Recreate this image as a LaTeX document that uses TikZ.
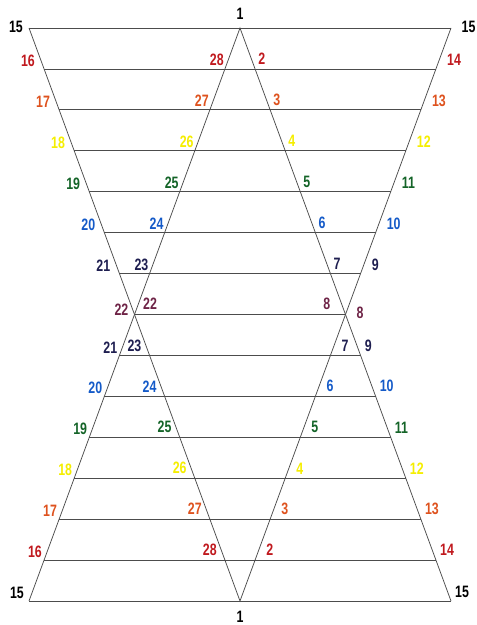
\documentclass[tikz,border=0pt]{standalone}
\usepackage{fontspec}
\newfontfamily\lblfont[FakeStretch=0.75]{Liberation Sans}
\usetikzlibrary{calc}
\definecolor{lvl1}{RGB}{192,25,30}
\definecolor{lvl2}{RGB}{222,82,30}
\definecolor{lvl3}{RGB}{245,238,0}
\definecolor{lvl4}{RGB}{20,100,40}
\definecolor{lvl5}{RGB}{20,90,200}
\definecolor{lvl6}{RGB}{30,30,80}
\definecolor{lvl7}{RGB}{110,35,70}

\begin{document}
\begin{tikzpicture}[x=1pt,y=1pt,
    edge/.style={black!70, line width=0.75pt},
    lbl/.style={inner sep=0pt, font=\lblfont\bfseries\fontsize{16.5}{18}\selectfont}]
        \useasboundingbox (0,0) rectangle (477,625);
        % define point
        \coordinate (T)  at (240,597);
        \coordinate (B)  at (240,24);
        \coordinate (TL) at (29,597);
        \coordinate (TR) at (451,597);
        \coordinate (BL) at (29,24);
        \coordinate (BR) at (451,24);
        % points on the edges, 14 steps
        \foreach \k in {1,...,13}{
            \coordinate (ul\k) at ($(T)!\k/14!(BL)$);
            \coordinate (ur\k) at ($(T)!\k/14!(BR)$);
            \coordinate (dl\k) at ($(TL)!\k/14!(B)$);
            \coordinate (dr\k) at ($(TR)!\k/14!(B)$);
        }
        % triangles
        \draw[edge] (BL) -- (T) -- (BR);
        \draw[edge] (TL) -- (B) -- (TR);
        % rungs
        \draw[edge] (TL) -- (TR);
        \draw[edge] (BL) -- (BR);
        \foreach \k in {1,...,6} \draw[edge] (dl\k) -- (dr\k);
        \draw[edge] (ul7) -- (ur7);
        \foreach \k in {8,...,13} \draw[edge] (ul\k) -- (ur\k);
        % numbers, upper half
        \foreach \k in {1,...,6}{
            \pgfmathtruncatemacro\nul{29-\k}
            \pgfmathtruncatemacro\nur{\k+1}
            \pgfmathtruncatemacro\ndl{15+\k}
            \pgfmathtruncatemacro\ndr{15-\k}
            \node[lbl, text=lvl\k, anchor=south east, xshift=-1pt, yshift=3pt] (n-ul\k) at (ul\k) {\nul};
            \node[lbl, text=lvl\k, anchor=south west, xshift=3pt, yshift=4pt] (n-ur\k) at (ur\k) {\nur};
            \node[lbl, text=lvl\k, anchor=south east, xshift=-9pt, yshift=2pt] (n-dl\k) at (dl\k) {\ndl};
            \node[lbl, text=lvl\k, anchor=south west, xshift=11pt, yshift=3pt] (n-dr\k) at (dr\k) {\ndr};
        }
        % numbers, lower half
        \foreach \k in {8,...,13}{
            \pgfmathtruncatemacro\c{14-\k}
            \pgfmathtruncatemacro\nul{29-\k}
            \pgfmathtruncatemacro\nur{\k+1}
            \pgfmathtruncatemacro\ndl{15+\k}
            \pgfmathtruncatemacro\ndr{15-\k}
            \node[lbl, text=lvl\c, anchor=south east, xshift=-2pt, yshift=2pt] (n-ul\k) at (ul\k) {\nul};
            \node[lbl, text=lvl\c, anchor=south west, xshift=4pt, yshift=4pt] (n-ur\k) at (ur\k) {\nur};
            \node[lbl, text=lvl\c, anchor=south east, xshift=-8pt, yshift=4pt] (n-dl\k) at (dl\k) {\ndl};
            \node[lbl, text=lvl\c, anchor=south west, xshift=11pt, yshift=4pt] (n-dr\k) at (dr\k) {\ndr};
        }
        % crossing points
        \node[lbl, text=lvl7, anchor=south east, xshift=-6pt, yshift=-1pt] (n-dl7) at (ul7) {22};
        \node[lbl, text=lvl7, anchor=south west, xshift=8.5pt, yshift=5pt] (n-ul7) at (ul7) {22};
        \node[lbl, text=lvl7, anchor=south east, xshift=-15pt, yshift=5pt] (n-dr7) at (ur7) {8};
        \node[lbl, text=lvl7, anchor=south west, xshift=11pt, yshift=-4pt] (n-ur7) at (ur7) {8};
        % corners
        \node[lbl, anchor=south, yshift=8pt] (n-T) at (T) {1};
        \node[lbl, anchor=north, yshift=-10pt] (n-B) at (B) {1};
        \node[lbl, anchor=east, xshift=-6pt, yshift=1.5pt] (n-TL) at (TL) {15};
        \node[lbl, anchor=west, xshift=10.5pt, yshift=1pt] (n-TR) at (TR) {15};
        \node[lbl, anchor=south east, xshift=-5pt, yshift=2pt] (n-BL) at (BL) {15};
        \node[lbl, anchor=south west, xshift=4pt, yshift=3pt] (n-BR) at (BR) {15};
    \end{tikzpicture}
\end{document}
